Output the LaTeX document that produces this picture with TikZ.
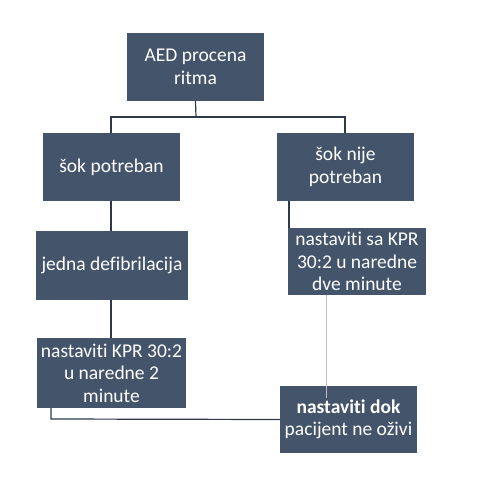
\documentclass[tikz,border=0pt]{standalone}
\usepackage{fontspec}
\setmainfont[RawFeature={-liga;-clig;-dlig}]{Carlito}
\usetikzlibrary{calc}
\definecolor{boxc}{HTML}{44546A}
\definecolor{linec}{HTML}{2E3A4A}
\definecolor{greyl}{HTML}{BCBCC4}
\begin{document}
\begin{tikzpicture}[x=1pt,y=-1pt,
  box/.style={draw=none,fill=boxc,text=white,align=center,inner sep=0pt,
    font=\fontsize{19.5}{22.5}\selectfont},
  conn/.style={draw=linec,line width=1.2pt},
  lconn/.style={draw=greyl,line width=1pt}]
\useasboundingbox (0,0) rectangle (499,499);
\fill[white] (0,0) rectangle (499,499);
\node[box,minimum width=137,minimum height=68] (aed) at (195.5,67) {AED procena\\ritma};
\node[box,minimum width=137,minimum height=68] (sp) at (111.5,167) {šok potreban};
\node[box,minimum width=137,minimum height=68] (snp) at (345.5,167) {šok nije\\potreban};
\node[box,minimum width=152,minimum height=69] (jd) at (112,265.5) {jedna defibrilacija};
\node[box,minimum width=138,minimum height=67] (ns) at (357,261.5) {nastaviti sa KPR\\30:2 u naredne\\dve minute};
\node[box,minimum width=149,minimum height=70] (nk) at (111.5,373) {nastaviti KPR 30:2\\u naredne 2\\minute};
\node[box,minimum width=137,minimum height=67] (nd) at (348.5,419.5) {\textbf{nastaviti dok}\\pacijent ne oživi};
\coordinate (hb) at (196,117);
\coordinate (hl) at (111,117);
\coordinate (hr) at (345,117);
\draw[conn] (aed.south) -- (hb);
\draw[conn] (sp.north -| hl) -- (hl) -- (hr) -- (snp.north -| hr);
\draw[conn] (sp.south -| hl) -- (jd.north -| hl);
\draw[conn] (jd.south -| hl) -- (nk.north -| hl);
\coordinate (rx) at (289,0);
\draw[conn] (snp.south -| rx) -- (ns.north -| rx);
\coordinate (gx) at (326,0);
\draw[lconn] (ns.south -| gx) -- ($(nd.north -| gx)+(0,12)$);
\coordinate (lx) at (51,0);
\coordinate (ly) at (0,419);
\draw[conn] (nk.south -| lx) -- (lx |- ly) -- (nd.west);
\end{tikzpicture}
\end{document}
